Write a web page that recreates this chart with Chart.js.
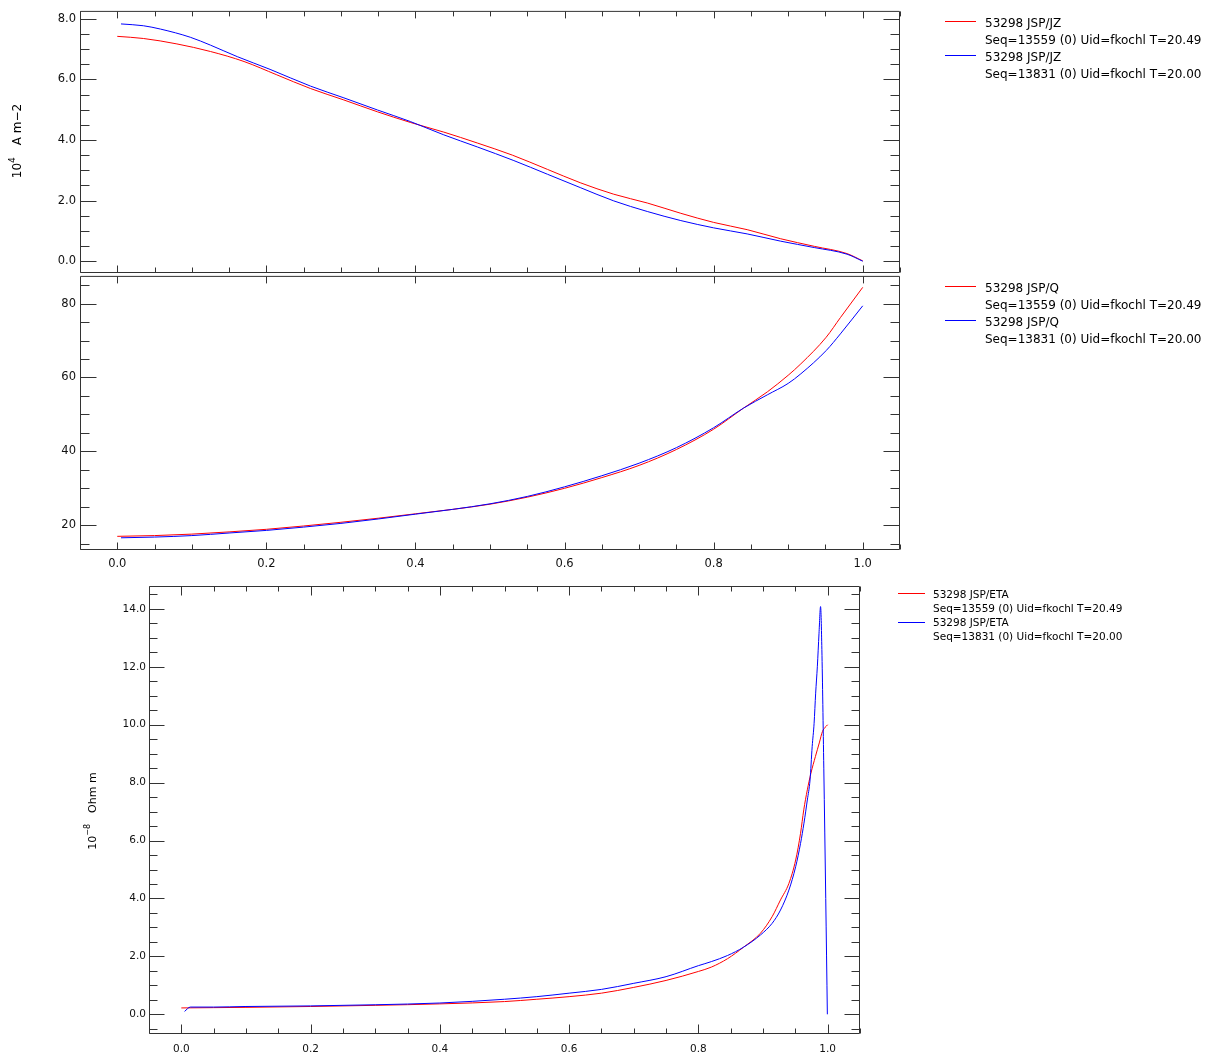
<!DOCTYPE html>
<html>
<head>
<meta charset="utf-8">
<script src="https://cdn.jsdelivr.net/npm/chart.js@4.4.0/dist/chart.umd.min.js"></script>
<style>
  body { margin: 0; background: #fff; width: 1219px; height: 1057px; overflow: hidden; position: relative; }
  canvas { position: absolute; left: 0; }
</style>
</head>
<body>
<canvas id="jzChart" width="1219" height="290" style="top:0px"></canvas>
<canvas id="qChart" width="1219" height="320" style="top:265px"></canvas>
<canvas id="etaChart" width="1219" height="487" style="top:570px"></canvas>
<script>
// JZ profiles (10^4 A m-2)
const jzRhoRed = [0, 0.035, 0.08, 0.125, 0.17, 0.214, 0.259, 0.304, 0.349, 0.393, 0.438, 0.483, 0.53, 0.577, 0.621, 0.666, 0.711, 0.756, 0.80, 0.845, 0.89, 0.935, 0.979, 1.0];
const jzRed    = [7.42, 7.35, 7.17, 6.92, 6.59, 6.15, 5.70, 5.32, 4.93, 4.58, 4.26, 3.90, 3.50, 3.03, 2.59, 2.21, 1.92, 1.58, 1.28, 1.04, 0.74, 0.49, 0.25, 0.01];
const jzRhoBlue = [0.005, 0.035, 0.058, 0.098, 0.125, 0.161, 0.205, 0.259, 0.304, 0.349, 0.393, 0.438, 0.483, 0.532, 0.577, 0.621, 0.666, 0.711, 0.756, 0.80, 0.845, 0.89, 0.935, 0.979, 1.0];
const jzBlue    = [7.83, 7.77, 7.66, 7.39, 7.13, 6.75, 6.33, 5.78, 5.39, 4.99, 4.61, 4.17, 3.77, 3.32, 2.87, 2.43, 1.99, 1.64, 1.34, 1.10, 0.90, 0.66, 0.45, 0.23, 0.0];

// Q profiles
const qRhoRed = [0, 0.05, 0.1, 0.15, 0.2, 0.25, 0.3, 0.35, 0.4, 0.45, 0.5, 0.55, 0.6, 0.65, 0.7, 0.75, 0.8, 0.84, 0.872, 0.9, 0.917, 0.951, 0.97, 1.0];
const qRed    = [17.0, 17.2, 17.6, 18.2, 18.9, 19.8, 20.8, 21.9, 23.1, 24.3, 25.7, 27.6, 30.0, 32.9, 36.2, 40.5, 46.0, 51.7, 56.1, 60.6, 63.7, 70.9, 76.2, 84.4];
const qRhoBlue = [0.005, 0.05, 0.1, 0.15, 0.2, 0.25, 0.3, 0.35, 0.4, 0.45, 0.5, 0.55, 0.6, 0.65, 0.7, 0.75, 0.8, 0.84, 0.872, 0.9, 0.917, 0.951, 0.97, 1.0];
const qBlue    = [16.6, 16.8, 17.2, 17.9, 18.6, 19.5, 20.5, 21.7, 23.0, 24.3, 25.8, 27.8, 30.4, 33.4, 36.8, 41.0, 46.4, 51.7, 55.3, 58.4, 61.0, 67.3, 71.8, 79.4];

// ETA profiles (10^-8 Ohm m)
const etaRhoRed = [0, 0.05, 0.1, 0.2, 0.3, 0.4, 0.5, 0.55, 0.6, 0.65, 0.7, 0.75, 0.8, 0.82, 0.845, 0.87, 0.896, 0.914, 0.927, 0.94, 0.9505, 0.958, 0.963, 0.9685, 0.974, 0.981, 0.987, 0.992, 1.0];
const etaRed    = [0.22, 0.23, 0.24, 0.27, 0.31, 0.36, 0.44, 0.52, 0.61, 0.73, 0.93, 1.17, 1.48, 1.63, 1.92, 2.32, 2.80, 3.37, 3.95, 4.52, 5.33, 6.25, 7.06, 7.75, 8.32, 8.9, 9.37, 9.77, 10.0];
const etaRhoBlue = [0.005, 0.014, 0.05, 0.1, 0.2, 0.3, 0.4, 0.5, 0.55, 0.6, 0.65, 0.7, 0.75, 0.8, 0.82, 0.845, 0.87, 0.896, 0.914, 0.927, 0.94, 0.9505, 0.958, 0.9633, 0.9685, 0.9727, 0.976, 0.979, 0.9814, 0.984, 0.9866, 0.989, 0.991, 0.994, 0.997, 0.9995];
const etaBlue    = [0.1, 0.25, 0.25, 0.27, 0.29, 0.33, 0.39, 0.52, 0.61, 0.73, 0.86, 1.07, 1.30, 1.68, 1.82, 2.03, 2.32, 2.74, 3.14, 3.60, 4.29, 5.1, 5.9, 6.6, 7.4, 8.09, 9.24, 10.05, 11.09, 12.0, 13.16, 14.08, 12.6, 8.5, 4.0, 0.0];

// tick labels
const xTicks = [0, 0.2, 0.4, 0.6, 0.8, 1.0];
const jzTicks = [0, 2, 4, 6, 8];
const qTicks = [20, 40, 60, 80];
const etaTicks = [0, 2, 4, 6, 8, 10, 12, 14];

// legend text
const jzLegend = ['53298 JSP/JZ', 'Seq=13559 (0) Uid=fkochl T=20.49', '53298 JSP/JZ', 'Seq=13831 (0) Uid=fkochl T=20.00'];
const qLegend = ['53298 JSP/Q', 'Seq=13559 (0) Uid=fkochl T=20.49', '53298 JSP/Q', 'Seq=13831 (0) Uid=fkochl T=20.00'];
const etaLegend = ['53298 JSP/ETA', 'Seq=13559 (0) Uid=fkochl T=20.49', '53298 JSP/ETA', 'Seq=13831 (0) Uid=fkochl T=20.00'];

const FONT = 'DejaVu Sans';
const AXIS = '#333';
const RED = '#ff0000';
const BLUE = '#0000ff';

function pts(xs, ys) { return xs.map((x, i) => ({ x, y: ys[i] })); }

function steps(min, max, step) {
  const out = [];
  let k = Math.ceil(min / step - 1e-9);
  while (k * step <= max + 1e-9) { out.push(+(k * step).toFixed(6)); k++; }
  return out;
}

// IDL style frame: box, inward ticks, rotated unit title and a text legend
// (extras are kept on chart.$idl so the option resolver does not touch them)
const idlFrame = {
  id: 'idlFrame',
  afterDraw(chart) {
    const o = chart.$idl;
    const { ctx, chartArea: a, scales: { x, y } } = chart;
    const L = a.left + 0.5, R = a.right - 0.5, T = a.top + 0.5, B = a.bottom - 0.5;
    const isMajor = (s, v) => s.ticks.some(t => Math.abs(t.value - v) < 1e-6);
    ctx.save();
    ctx.lineWidth = 1;

    // frame and ticks
    ctx.strokeStyle = AXIS;
    ctx.beginPath();
    ctx.rect(L, T, R - L, B - T);
    steps(x.min, x.max, o.xStep).forEach(v => {
      const px = Math.round(x.getPixelForValue(v)) + 0.5;
      const mj = isMajor(x, v);
      ctx.moveTo(px, B); ctx.lineTo(px, B - (mj ? o.xLen[0] : o.xLen[1]));
      if (mj || o.topMinor) { ctx.moveTo(px, T); ctx.lineTo(px, T + (mj ? o.xLen[0] : o.xLen[1])); }
    });
    steps(y.min, y.max, o.yStep).forEach(v => {
      const py = Math.round(y.getPixelForValue(v)) + 0.5;
      const len = isMajor(y, v) ? o.yLen[0] : o.yLen[1];
      ctx.moveTo(L, py); ctx.lineTo(L + len, py);
      ctx.moveTo(R, py); ctx.lineTo(R - len, py);
    });
    ctx.stroke();

    // legend: coloured sample line then two text rows per dataset
    const g = o.legend;
    ctx.font = `${g.size}px "${FONT}"`;
    ctx.textBaseline = 'middle';
    ctx.textAlign = 'left';
    [RED, BLUE].forEach((col, i) => {
      const ly = Math.round(g.y0 + 2 * i * g.dy - g.lineOff);
      ctx.fillStyle = col;
      ctx.fillRect(g.lineX[0], ly, g.lineX[1] - g.lineX[0], 1);
    });
    ctx.fillStyle = '#000';
    o.rows.forEach((r, i) => ctx.fillText(r, g.textX, g.y0 + i * g.dy));

    // rotated unit label with superscript exponent
    if (o.title) {
      const t = o.title;
      ctx.translate(t.x, t.y);
      ctx.rotate(-Math.PI / 2);
      ctx.fillStyle = '#000';
      const fb = `${t.size}px "${FONT}"`, fs = `${Math.round(t.size * 0.72)}px "${FONT}"`;
      ctx.font = fb; const w1 = ctx.measureText(t.base).width, w3 = ctx.measureText(t.rest).width;
      ctx.font = fs; const w2 = ctx.measureText(t.sup).width;
      let cx = -(w1 + w2 + t.gap + w3) / 2;
      ctx.font = fb; ctx.fillText(t.base, cx, 0); cx += w1;
      ctx.font = fs; ctx.fillText(t.sup, cx, -t.size * 0.45); cx += w2 + t.gap;
      ctx.font = fb; ctx.fillText(t.rest, cx, 0);
    }
    ctx.restore();
  }
};

function makeChart(id, c) {
  const ctx = document.getElementById(id).getContext('2d');
  const line = { borderWidth: 1, pointRadius: 0, cubicInterpolationMode: 'monotone' };
  return new Chart(ctx, {
    type: 'line',
    data: {
      datasets: [
        Object.assign({ label: c.legend[0], data: pts(c.xa, c.ya), borderColor: RED, order: 1 }, line),
        Object.assign({ label: c.legend[2], data: pts(c.xb, c.yb), borderColor: BLUE, order: 0 }, line)
      ]
    },
    options: {
      responsive: false,
      maintainAspectRatio: false,
      animation: false,
      events: [],
      layout: { padding: c.padding },
      plugins: {
        legend: { display: false },
        tooltip: { enabled: false }
      },
      scales: {
        x: {
          type: 'linear', min: -0.05, max: 1.05,
          afterBuildTicks: s => { s.ticks = xTicks.map(v => ({ value: v })); },
          afterFit: s => { s.height = c.xHeight; },
          grid: { display: false, drawTicks: false, tickLength: 0 },
          border: { display: false },
          ticks: {
            display: c.xLabels, padding: c.xPad, color: '#111', maxRotation: 0, autoSkip: false,
            font: { family: FONT, size: c.tickSize },
            callback: v => v.toFixed(1)
          }
        },
        y: {
          type: 'linear', min: c.yMin, max: c.yMax,
          afterBuildTicks: s => { s.ticks = c.yTicks.map(v => ({ value: v })); },
          afterFit: s => { s.width = c.yWidth; },
          grid: { display: false, drawTicks: false, tickLength: 0 },
          border: { display: false },
          ticks: {
            padding: c.yPad, color: '#111', autoSkip: false,
            font: { family: FONT, size: c.tickSize },
            callback: v => v.toFixed(c.yDigits)
          }
        }
      }
    },
    plugins: [{
      id: 'idlSetup',
      beforeInit(ch) {
        ch.$idl = {
          xStep: 0.05, yStep: c.yStep, xLen: c.xLen, yLen: c.yLen, topMinor: c.topMinor,
          title: c.title, legend: c.legendPos, rows: c.legend
        };
      }
    }, idlFrame]
  });
}

makeChart('jzChart', {
  xa: jzRhoRed, ya: jzRed, xb: jzRhoBlue, yb: jzBlue, legend: jzLegend,
  yMin: -0.39, yMax: 8.26, yTicks: jzTicks, yDigits: 1, yStep: 0.5,
  padding: { left: 0, right: 319, top: 8, bottom: 0 },
  yWidth: 80, xHeight: 17, xLabels: false, xPad: 0, yPad: 4, tickSize: 11.5,
  xLen: [7, 5], yLen: [16, 9], topMinor: true,
  title: { x: 18, y: 141, size: 12, base: '10', sup: '4', rest: 'A m\u22122', gap: 12 },
  legendPos: { size: 12, textX: 985, y0: 24, dy: 16.8, lineOff: 3, lineX: [945, 976] }
});

makeChart('qChart', {
  xa: qRhoRed, ya: qRed, xb: qRhoBlue, yb: qBlue, legend: qLegend,
  yMin: 13.3, yMax: 87.5, yTicks: qTicks, yDigits: 0, yStep: 5,
  padding: { left: 0, right: 319, top: 8, bottom: 0 },
  yWidth: 80, xHeight: 35, xLabels: true, xPad: 7, yPad: 4, tickSize: 11.5,
  xLen: [7, 5], yLen: [16, 9], topMinor: false,
  title: null,
  legendPos: { size: 12, textX: 985, y0: 24, dy: 16.8, lineOff: 3, lineX: [945, 976] }
});

makeChart('etaChart', {
  xa: etaRhoRed, ya: etaRed, xb: etaRhoBlue, yb: etaBlue, legend: etaLegend,
  yMin: -0.68, yMax: 14.79, yTicks: etaTicks, yDigits: 1, yStep: 0.5,
  padding: { left: 0, right: 359, top: 16, bottom: 0 },
  yWidth: 149, xHeight: 23, xLabels: true, xPad: 9, yPad: 3, tickSize: 10.5,
  xLen: [9, 5], yLen: [15, 8], topMinor: true,
  title: { x: 93, y: 241, size: 11, base: '10', sup: '\u22128', rest: 'Ohm m', gap: 11 },
  legendPos: { size: 10.5, textX: 933, y0: 25, dy: 14.2, lineOff: 1.7, lineX: [898, 925] }
});
</script>
</body>
</html>
